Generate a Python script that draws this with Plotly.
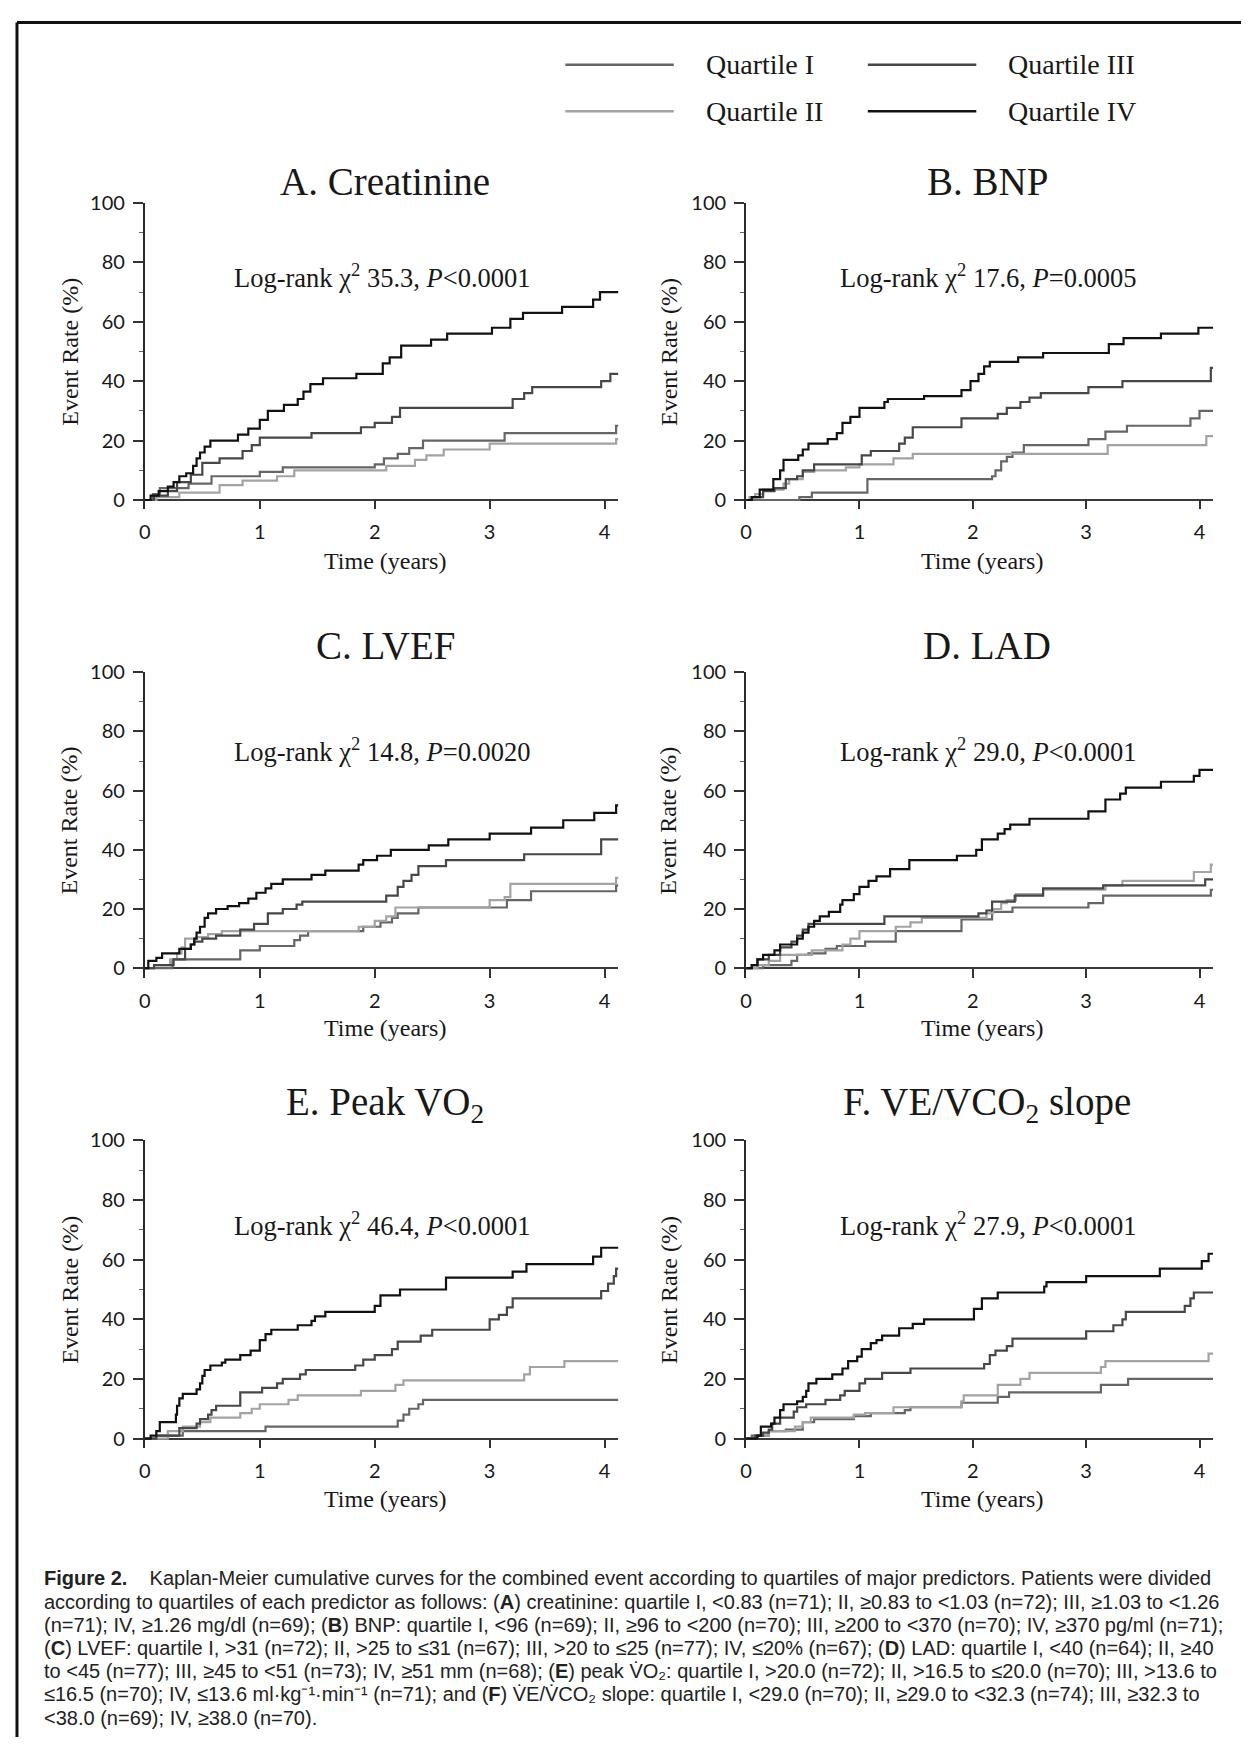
import plotly.graph_objects as go

# ---------------- data ----------------
quartile_names = ["Quartile I", "Quartile II", "Quartile III", "Quartile IV"]
panel_titles = ["A. Creatinine", "B. BNP", "C. LVEF", "D. LAD",
                "E. Peak VO<sub>2</sub>", "F. VE/VCO<sub>2</sub> slope"]
logrank_texts = ["Log-rank χ<sup>2</sup> 35.3, <i>P</i>&lt;0.0001",
                 "Log-rank χ<sup>2</sup> 17.6, <i>P</i>=0.0005",
                 "Log-rank χ<sup>2</sup> 14.8, <i>P</i>=0.0020",
                 "Log-rank χ<sup>2</sup> 29.0, <i>P</i>&lt;0.0001",
                 "Log-rank χ<sup>2</sup> 46.4, <i>P</i>&lt;0.0001",
                 "Log-rank χ<sup>2</sup> 27.9, <i>P</i>&lt;0.0001"]
x_ticks = [0, 1, 2, 3, 4]
y_ticks = [0, 20, 40, 60, 80, 100]

# A. Creatinine
a_q1_t = [0, 0.07, 0.13, 0.38, 0.58, 1.0, 1.2, 2.0, 2.08, 2.2, 2.3, 2.42, 3.13, 4.1, 4.12]
a_q1_y = [0, 2, 4, 5.5, 8, 9.5, 11, 12, 14, 15.5, 17.5, 20, 22.5, 25, 25]
a_q2_t = [0, 0.1, 0.3, 0.65, 0.85, 1.15, 1.3, 2.1, 2.35, 2.45, 2.6, 3.0, 4.1, 4.12]
a_q2_y = [0, 1, 2.5, 5, 6.5, 8, 10, 11.5, 13.5, 15, 17, 19, 20.5, 20.5]
a_q3_t = [0, 0.08, 0.2, 0.28, 0.4, 0.5, 0.65, 0.85, 0.93, 1.0, 1.45, 1.88, 2.0, 2.15, 2.22, 3.2, 3.3, 3.37, 3.97, 4.05, 4.12]
a_q3_y = [0, 1.5, 3, 6, 8.5, 12.5, 14, 16.5, 18.5, 21, 22.5, 24.5, 26, 28, 31, 34, 36, 38, 40, 42.5, 42.5]
a_q4_t = [0, 0.05, 0.12, 0.2, 0.25, 0.3, 0.36, 0.42, 0.45, 0.48, 0.52, 0.57, 0.81, 0.9, 1.0, 1.07, 1.21, 1.33, 1.38, 1.44, 1.55, 1.84, 2.07, 2.13, 2.23, 2.49, 2.63, 3.02, 3.18, 3.29, 3.63, 3.9, 3.96, 4.12]
a_q4_y = [0, 1.5, 3, 4.5, 6, 8, 9, 11.5, 14, 16, 18, 20, 22, 24, 27, 30, 32, 34, 36.5, 39, 41, 42.5, 46, 48, 52, 54, 56, 58, 61, 63, 65, 67.5, 70, 70]

# B. BNP
b_q1_t = [0, 0.47, 0.58, 1.07, 2.17, 2.2, 2.25, 2.3, 2.35, 2.45, 3.02, 3.17, 3.36, 3.92, 4.0, 4.12]
b_q1_y = [0, 1, 2.5, 7, 8, 10, 13, 14.5, 16, 18.5, 20.5, 23, 25, 27.5, 30, 30]
b_q2_t = [0, 0.03, 0.08, 0.15, 0.33, 0.38, 0.5, 0.6, 0.88, 1.0, 1.3, 1.47, 3.19, 4.06, 4.12]
b_q2_y = [0, 1, 2, 3.5, 5.5, 7, 9.5, 10, 11, 12, 14, 15.5, 18.5, 21.5, 21.5]
b_q3_t = [0, 0.05, 0.15, 0.25, 0.35, 0.45, 0.5, 0.6, 1.02, 1.1, 1.35, 1.4, 1.47, 1.9, 2.22, 2.3, 2.42, 2.5, 2.6, 3.02, 3.32, 4.1, 4.12]
b_q3_y = [0, 1, 3, 4, 7, 8, 10, 12, 15, 16.5, 19, 21, 24.5, 27.5, 29, 31, 33, 34.5, 36, 38, 40, 44.5, 44.5]
b_q4_t = [0, 0.05, 0.12, 0.24, 0.3, 0.33, 0.46, 0.5, 0.55, 0.72, 0.8, 0.85, 0.92, 1.0, 1.22, 1.25, 1.57, 1.9, 1.98, 2.05, 2.1, 2.15, 2.4, 2.62, 3.2, 3.33, 3.66, 3.99, 4.12]
b_q4_y = [0, 1, 3.5, 7, 10, 13.5, 15, 17, 19, 20.5, 22.5, 26, 28, 31, 33, 34, 35, 37, 40, 42.5, 45, 46.5, 48, 49.5, 52.5, 54.5, 56, 58, 58]

# C. LVEF
c_q1_t = [0, 0.24, 0.83, 1.0, 1.3, 1.35, 1.42, 1.9, 2.05, 2.15, 2.2, 2.38, 3.15, 3.36, 4.1, 4.12]
c_q1_y = [0, 3, 6, 7.5, 9.5, 11, 12.5, 14, 15.5, 17, 18.5, 20.5, 23, 26, 28, 28]
c_q2_t = [0, 0.08, 0.22, 0.28, 0.32, 0.35, 0.45, 0.55, 0.67, 1.86, 2.0, 2.1, 2.18, 3.0, 3.13, 3.18, 4.1, 4.12]
c_q2_y = [0, 1, 3, 5, 7, 10, 10.5, 11.5, 12.5, 14, 16, 17.5, 20.5, 23, 24, 28.5, 30.5, 30.5]
c_q3_t = [0, 0.08, 0.25, 0.35, 0.4, 0.43, 0.5, 0.62, 0.83, 0.95, 1.07, 1.2, 1.32, 1.37, 2.1, 2.2, 2.25, 2.32, 2.38, 2.62, 3.3, 3.97, 4.12]
c_q3_y = [0, 1, 3, 6.5, 8, 9, 10, 11, 13, 15, 18.5, 20, 21.5, 22.5, 24.5, 27.5, 29.5, 31.5, 34.5, 36.5, 38.5, 43.5, 43.5]
c_q4_t = [0, 0.03, 0.1, 0.15, 0.3, 0.4, 0.43, 0.45, 0.48, 0.52, 0.55, 0.62, 0.72, 0.82, 0.9, 0.97, 1.05, 1.1, 1.2, 1.45, 1.57, 1.86, 1.9, 2.02, 2.14, 2.47, 2.64, 3.0, 3.36, 3.64, 3.91, 4.1, 4.12]
c_q4_y = [0, 2.5, 3.5, 5, 6.5, 8, 10, 12, 14, 17, 18.5, 20, 21, 22, 23.5, 25.5, 27, 28.5, 30, 31.5, 33, 35, 36.5, 38, 40, 41.5, 43.5, 45.5, 47.5, 50, 52.5, 55, 55]

# D. LAD
d_q1_t = [0, 0.15, 0.4, 0.45, 0.55, 0.7, 0.8, 1.05, 1.32, 1.9, 2.17, 2.35, 3.02, 3.15, 4.1, 4.12]
d_q1_y = [0, 1, 2.5, 4.5, 5, 6.5, 7.5, 9, 12.5, 16.5, 19, 20.5, 22, 24.5, 26.5, 26.5]
d_q2_t = [0, 0.1, 0.2, 0.3, 0.58, 0.85, 0.92, 1.0, 1.32, 1.45, 1.55, 2.12, 2.18, 2.25, 2.3, 2.38, 2.62, 3.17, 3.32, 3.95, 4.1, 4.12]
d_q2_y = [0, 1, 2.5, 4.5, 6, 8, 10, 12.5, 14, 15.5, 17, 18.5, 20, 22, 23, 25, 26.5, 28, 29.5, 32.5, 35, 35]
d_q3_t = [0, 0.05, 0.1, 0.2, 0.3, 0.4, 0.45, 0.5, 0.55, 1.22, 2.05, 2.12, 2.17, 2.37, 2.62, 3.15, 4.05, 4.12]
d_q3_y = [0, 1, 3, 4.5, 7, 9, 11, 13, 15, 17.5, 18.5, 19.5, 22.5, 24.5, 27, 28, 30, 30]
d_q4_t = [0, 0.05, 0.1, 0.15, 0.25, 0.3, 0.45, 0.5, 0.55, 0.6, 0.65, 0.73, 0.83, 0.85, 0.95, 1.0, 1.08, 1.15, 1.27, 1.44, 1.86, 2.03, 2.08, 2.22, 2.28, 2.33, 2.5, 3.02, 3.17, 3.3, 3.35, 3.66, 3.95, 4.0, 4.12]
d_q4_y = [0, 1, 3, 4.5, 6, 8, 10, 12, 14, 16, 17.5, 19, 21.5, 23, 25, 27.5, 29.5, 31, 33.5, 36.5, 38, 40, 43.5, 45.5, 47, 48.5, 50.5, 53, 57, 59, 61, 63, 65, 67, 67]

# E. Peak VO2
e_q1_t = [0, 0.1, 0.33, 1.05, 2.2, 2.25, 2.3, 2.38, 2.42, 4.12]
e_q1_y = [0, 1, 2.5, 4, 6, 8, 10, 11.5, 13, 13]
e_q2_t = [0, 0.2, 0.33, 0.48, 0.57, 0.83, 0.93, 1.0, 1.25, 1.33, 1.88, 2.18, 2.25, 3.3, 3.35, 3.65, 4.12]
e_q2_y = [0, 2.5, 4, 5.5, 7, 8.5, 10, 11.5, 13, 14.5, 16, 18, 19.5, 21.5, 24, 26, 26]
e_q3_t = [0, 0.1, 0.3, 0.45, 0.48, 0.55, 0.58, 0.62, 0.83, 1.02, 1.15, 1.2, 1.35, 1.4, 1.83, 1.9, 2.0, 2.15, 2.2, 2.4, 2.5, 3.0, 3.08, 3.15, 3.2, 3.97, 4.03, 4.08, 4.1, 4.12]
e_q3_y = [0, 1, 3.5, 5, 6.5, 8, 9.5, 11, 15.5, 17, 18.5, 20, 21.5, 23, 24.5, 26.5, 28, 30, 32.5, 34.5, 36.5, 40, 41.5, 44, 47, 49.5, 52, 54.5, 57, 57]
e_q4_t = [0, 0.05, 0.1, 0.13, 0.27, 0.28, 0.3, 0.33, 0.45, 0.48, 0.5, 0.52, 0.57, 0.67, 0.7, 0.83, 0.92, 1.0, 1.05, 1.1, 1.33, 1.45, 1.48, 1.57, 2.0, 2.05, 2.22, 2.62, 3.2, 3.32, 3.9, 3.97, 4.12]
e_q4_y = [0, 1, 2.5, 5.5, 8, 11, 13.5, 15, 16.5, 18.5, 21, 23, 24.5, 25.5, 26.5, 28, 29.5, 33, 35, 36.5, 38, 39.5, 41, 42.5, 44.5, 48, 50, 54, 56, 58.5, 61, 64, 64]

# F. VE/VCO2 slope
f_q1_t = [0, 0.05, 0.2, 0.35, 0.5, 0.6, 0.95, 1.1, 1.4, 1.45, 1.9, 2.22, 2.32, 3.13, 3.37, 4.12]
f_q1_y = [0, 1, 2.5, 3, 5.5, 6.5, 7.5, 8.5, 9.5, 10.5, 12, 14, 15.5, 18, 20, 20]
f_q2_t = [0, 0.1, 0.2, 0.43, 0.5, 0.57, 0.95, 1.05, 1.3, 1.9, 1.92, 2.22, 2.42, 2.5, 3.13, 3.17, 4.08, 4.12]
f_q2_y = [0, 1, 2.5, 4, 5.5, 7, 8, 8.5, 10.5, 12.5, 14.5, 18, 20, 22, 24, 26, 28.5, 28.5]
f_q3_t = [0, 0.08, 0.15, 0.2, 0.23, 0.3, 0.42, 0.45, 0.53, 0.7, 0.83, 0.87, 1.0, 1.05, 1.2, 1.45, 2.1, 2.15, 2.2, 2.3, 2.35, 3.0, 3.24, 3.32, 3.35, 3.87, 3.92, 3.95, 4.12]
f_q3_y = [0, 1, 2, 3, 5, 7, 9, 10.5, 11.5, 13, 14.5, 16, 18.5, 20, 22, 23.5, 25, 28, 29.5, 31, 33.5, 36, 38, 40, 42.5, 44.5, 47, 49, 49]
f_q4_t = [0, 0.1, 0.13, 0.22, 0.25, 0.3, 0.33, 0.45, 0.5, 0.53, 0.55, 0.62, 0.76, 0.85, 0.9, 0.98, 1.02, 1.1, 1.15, 1.2, 1.35, 1.47, 1.57, 2.01, 2.08, 2.22, 2.63, 2.65, 3.0, 3.65, 4.02, 4.08, 4.12]
f_q4_y = [0, 1, 4, 5, 7, 9.5, 11.5, 12.5, 14, 16, 18.5, 20, 21.5, 23.5, 26, 27.5, 30, 32, 33, 34.5, 37, 38.5, 40, 43.5, 47, 49, 51, 52.5, 54.5, 57, 59.5, 62, 62]

caption_lines = [
    "<b>Figure 2.</b>    Kaplan-Meier cumulative curves for the combined event according to quartiles of major predictors. Patients were divided",
    "according to quartiles of each predictor as follows: (<b>A</b>) creatinine: quartile I, &lt;0.83 (n=71); II, ≥0.83 to &lt;1.03 (n=72); III, ≥1.03 to &lt;1.26",
    "(n=71); IV, ≥1.26 mg/dl (n=69); (<b>B</b>) BNP: quartile I, &lt;96 (n=69); II, ≥96 to &lt;200 (n=70); III, ≥200 to &lt;370 (n=70); IV, ≥370 pg/ml (n=71);",
    "(<b>C</b>) LVEF: quartile I, &gt;31 (n=72); II, &gt;25 to ≤31 (n=67); III, &gt;20 to ≤25 (n=77); IV, ≤20% (n=67); (<b>D</b>) LAD: quartile I, &lt;40 (n=64); II, ≥40",
    "to &lt;45 (n=77); III, ≥45 to &lt;51 (n=73); IV, ≥51 mm (n=68); (<b>E</b>) peak V̇O₂: quartile I, &gt;20.0 (n=72); II, &gt;16.5 to ≤20.0 (n=70); III, &gt;13.6 to",
    "≤16.5 (n=70); IV, ≤13.6 ml·kg⁻¹·min⁻¹ (n=71); and (<b>F</b>) V̇E/V̇CO₂ slope: quartile I, &lt;29.0 (n=70); II, ≥29.0 to &lt;32.3 (n=74); III, ≥32.3 to",
    "&lt;38.0 (n=69); IV, ≥38.0 (n=70).",
]

panels = [
    [(a_q1_t, a_q1_y), (a_q2_t, a_q2_y), (a_q3_t, a_q3_y), (a_q4_t, a_q4_y)],
    [(b_q1_t, b_q1_y), (b_q2_t, b_q2_y), (b_q3_t, b_q3_y), (b_q4_t, b_q4_y)],
    [(c_q1_t, c_q1_y), (c_q2_t, c_q2_y), (c_q3_t, c_q3_y), (c_q4_t, c_q4_y)],
    [(d_q1_t, d_q1_y), (d_q2_t, d_q2_y), (d_q3_t, d_q3_y), (d_q4_t, d_q4_y)],
    [(e_q1_t, e_q1_y), (e_q2_t, e_q2_y), (e_q3_t, e_q3_y), (e_q4_t, e_q4_y)],
    [(f_q1_t, f_q1_y), (f_q2_t, f_q2_y), (f_q3_t, f_q3_y), (f_q4_t, f_q4_y)],
]

# ---------------- styling / layout ----------------
PAGE_W, PAGE_H = 1249, 1746
BODY_MARGIN = 8                      # default page margin around the plot div
W, H = PAGE_W - 2 * BODY_MARGIN, PAGE_H - 2 * BODY_MARGIN
colors = ["#666666", "#a3a3a3", "#474747", "#111111"]
serif = "Liberation Serif, Times New Roman, serif"
sans = "Lato, Carlito, Noto Sans, sans-serif"
capfont = "Liberation Sans, Arial, sans-serif"
ink = "#181818"

X_MAX = 4.12
Y_MIN = -3.2
cols = [(139.5, 115.5), (743.7, 113.9)]          # page px of x=0, px per year
rows = [(191.5, 490.9), (664.6, 962.9), (1136.6, 1437.1)]  # page px of y=100, y=0


def px(x):
    return (x - BODY_MARGIN) / W


def py(y):
    return 1 - (y - BODY_MARGIN) / H


fig = go.Figure()
layout_axes = {}
for i, curves in enumerate(panels):
    r, c = divmod(i, 2)
    x0, ppy = cols[c]
    top, zero = rows[r]
    ppp = (zero - top) / 100.0
    bottom = zero - Y_MIN * ppp
    sfx = "" if i == 0 else str(i + 1)
    layout_axes["xaxis" + sfx] = dict(
        domain=[px(x0), px(x0 + X_MAX * ppy)], range=[0, X_MAX],
        anchor="y" + sfx, tickvals=x_ticks, ticks="inside", ticklen=9,
        tickwidth=1.5, tickcolor="#333", showline=False, showgrid=False,
        zeroline=False, ticklabelstandoff=9,
        tickfont=dict(family=sans, size=20, color=ink), fixedrange=True)
    layout_axes["yaxis" + sfx] = dict(
        domain=[py(bottom), py(top)], range=[Y_MIN, 100],
        anchor="x" + sfx, tickvals=y_ticks, ticks="outside", ticklen=10,
        tickwidth=1.5, tickcolor="#333", showline=True, linecolor="#2a2a2a",
        linewidth=2, showgrid=False, zeroline=True, zerolinecolor="#3a3a3a",
        zerolinewidth=1.5, ticklabelstandoff=4,
        minor=dict(tickvals=[10, 30, 50, 70, 90], ticks="outside", ticklen=4,
                   tickcolor="#666", tickwidth=1),
        tickfont=dict(family=sans, size=20, color=ink), fixedrange=True)
    for q, (t, v) in enumerate(curves):
        fig.add_trace(go.Scatter(
            x=t, y=v, mode="lines", line=dict(shape="hv", color=colors[q], width=2.2),
            xaxis="x" + sfx, yaxis="y" + sfx, name=quartile_names[q],
            showlegend=False, hoverinfo="skip"))

fig.update_layout(**layout_axes)

ann = []
title_x = [381, 986]
title_y = [170, 638, 1100]
lr_x = [378, 987]
lr_y = [265, 743, 1221]
xt_x = [381, 981]
xt_y = [552, 1023, 1498]
yt_x = [63.5, 665.7]
for i in range(6):
    r, c = divmod(i, 2)
    top, zero = rows[r]
    ann.append(dict(text=panel_titles[i], x=px(title_x[c]), y=py(title_y[r]),
                    xref="paper", yref="paper", showarrow=False,
                    xanchor="center", yanchor="middle",
                    font=dict(family=serif, size=39, color=ink)))
    ann.append(dict(text=logrank_texts[i], x=px(lr_x[c]), y=py(lr_y[r]),
                    xref="paper", yref="paper", showarrow=False,
                    xanchor="center", yanchor="middle",
                    font=dict(family=serif, size=26.5, color=ink)))
    ann.append(dict(text="Time (years)", x=px(xt_x[c]), y=py(xt_y[r]),
                    xref="paper", yref="paper", showarrow=False,
                    xanchor="center", yanchor="middle",
                    font=dict(family=serif, size=24, color=ink)))
    ann.append(dict(text="Event Rate (%)", x=px(yt_x[c]), y=py((top + zero) / 2),
                    xref="paper", yref="paper", showarrow=False, textangle=-90,
                    xanchor="center", yanchor="middle",
                    font=dict(family=serif, size=24, color=ink)))

# legend (manual, two columns)
leg_rows = [52, 99]
leg_line_x = [(562, 671), (866, 975)]
leg_text_x = [701, 1005]
shapes = []
for q in range(4):
    c, r = divmod(q, 2)
    shapes.append(dict(type="line", xref="paper", yref="paper",
                       x0=px(leg_line_x[c][0]), x1=px(leg_line_x[c][1]),
                       y0=py(leg_rows[r]), y1=py(leg_rows[r]),
                       line=dict(color=colors[q], width=2.5)))
    ann.append(dict(text=quartile_names[q], x=px(leg_text_x[c]), y=py(leg_rows[r]),
                    xref="paper", yref="paper", showarrow=False,
                    xanchor="left", yanchor="middle",
                    font=dict(family=serif, size=28, color=ink)))

# caption
for k, line in enumerate(caption_lines):
    ann.append(dict(text=line, x=px(36), y=py(1578 + 23.4 * k),
                    xref="paper", yref="paper", showarrow=False,
                    xanchor="left", yanchor="middle", align="left",
                    font=dict(family=capfont, size=20, color="#222")))

# frame lines of the scanned page
shapes.append(dict(type="line", xref="paper", yref="paper", x0=px(11), x1=1.0,
                   y0=py(9.5), y1=py(9.5), line=dict(color="#111", width=3)))
shapes.append(dict(type="line", xref="paper", yref="paper", x0=px(11), x1=px(11),
                   y0=py(9.5), y1=0, line=dict(color="#111", width=3)))

fig.update_layout(width=W, height=H, margin=dict(l=0, r=0, t=0, b=0),
                  paper_bgcolor="white", plot_bgcolor="white",
                  annotations=ann, shapes=shapes, showlegend=False)

fig.write_html("out.html", config={"displayModeBar": False})
